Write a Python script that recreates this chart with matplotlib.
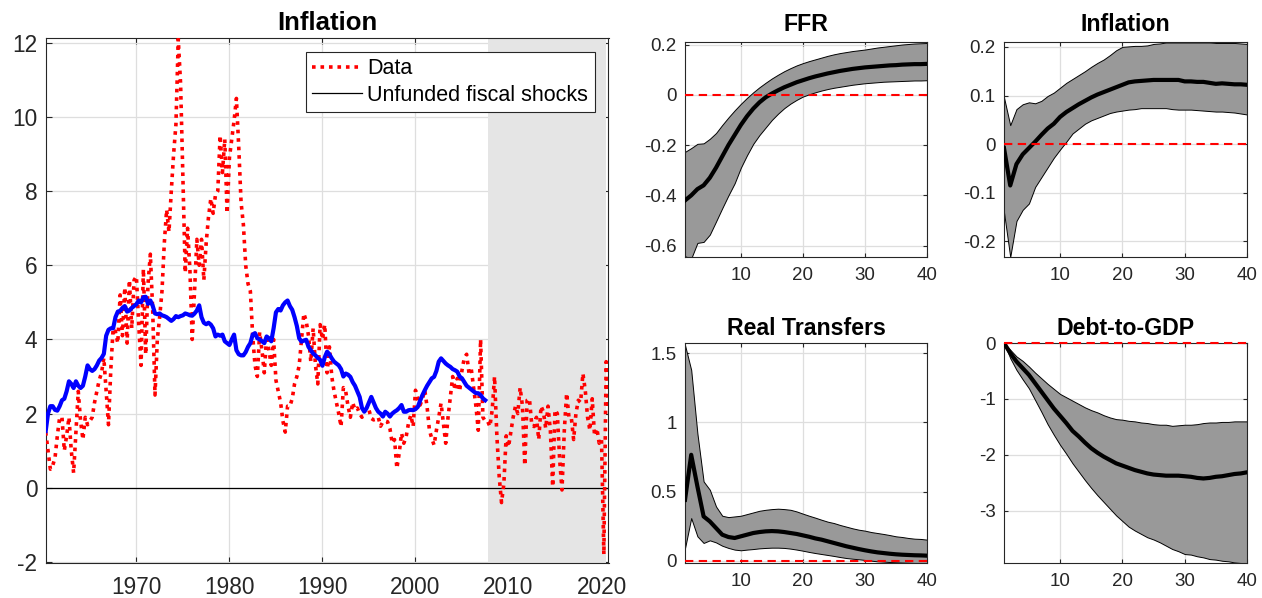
import numpy as np
import matplotlib
matplotlib.use("Agg")
import matplotlib.pyplot as plt
from matplotlib.ticker import FormatStrFormatter

plt.rcParams["font.family"] = ["Liberation Sans", "DejaVu Sans"]
plt.rcParams["axes.unicode_minus"] = False

# ---- left panel: quarterly inflation data (1960Q2 - 2020Q4) ----
data_start = 1960.25
inflation_data = [
    1.5, 1.0, 0.5,
    0.6, 0.8, 1.4, 1.9, 1.9, 1.0, 1.4, 1.9, 1.0, 0.4, 1.5, 2.6,
    1.8, 1.3, 1.9, 1.7, 1.8, 1.9, 2.3, 2.6, 2.9, 3.1, 3.5, 2.6,
    1.7, 3.2, 4.3, 4.2, 3.9, 5.2, 4.1, 5.4, 3.9, 5.6, 4.3, 5.6,
    5.7, 4.4, 3.3, 5.9, 3.6, 5.5, 6.3, 4.8, 2.5, 4.0, 4.6, 5.3,
    6.6, 7.5, 6.9, 8.0, 9.0, 9.8, 12.1, 10.9, 8.4, 5.8, 7.0, 5.9,
    4.0, 5.3, 6.7, 6.0, 6.7, 5.6, 6.6, 7.3, 7.8, 7.4, 7.9, 8.0,
    9.5, 8.5, 9.4, 7.4, 8.9, 9.4, 9.9, 10.5, 9.2, 7.7, 7.1, 6.0,
    5.5, 5.3, 4.1, 3.3, 3.0, 4.2, 3.7, 3.1, 4.1, 3.7, 3.3, 4.0,
    2.9, 2.6, 2.3, 1.8, 1.5, 2.2, 2.2, 2.4, 2.8, 3.0, 3.3, 4.0,
    4.7, 4.5, 4.1, 3.4, 4.3, 3.3, 2.8, 4.4, 4.0, 4.4, 3.1, 3.8,
    3.0, 2.6, 2.3, 2.0, 1.65, 2.7, 2.6, 2.2, 1.9, 2.3, 2.1, 2.15,
    2.0, 1.9, 2.1, 2.05, 2.1, 1.87, 1.83, 1.85, 1.9, 1.66, 1.78, 1.8,
    1.78, 1.6, 1.2, 1.3, 0.52, 0.93, 1.47, 1.2, 1.38, 1.74, 1.96, 1.65,
    2.63, 2.4, 2.23, 2.4, 2.63, 2.18, 1.55, 1.33, 1.15, 1.55, 1.9, 2.28,
    1.74, 1.2, 1.9, 2.45, 3.0, 2.63, 2.95, 2.6, 3.17, 3.5, 3.6, 3.1,
    3.2, 2.7, 2.2, 1.55, 4.0, 1.9, 1.8, 1.8, 1.65, 2.1, 3.0, 1.4,
    0.3, -0.4, 0.1, 1.4, 1.1, 1.5, 1.9, 2.2, 2.0, 2.7, 2.2, 0.6,
    2.36, 2.4, 1.7, 1.65, 1.9, 1.3, 2.2, 2.05, 1.6, 2.2, 1.55, 0.03,
    2.1, 2.0, 0.75, -0.06, 1.55, 2.55, 1.9, 1.9, 1.3, 2.0, 2.36, 2.3,
    3.08, 2.63, 1.9, 1.55, 2.4, 1.4, 1.6, 1.2, 1.3, -1.8, 3.4, 2.2,
]

# contribution of unfunded fiscal shocks (1960Q2 - 2007Q3)
unfunded = [
    1.53, 2.0, 2.2,
    2.2, 2.1, 2.08, 2.2, 2.36, 2.4, 2.6, 2.87, 2.8, 2.69, 2.87, 2.75,
    2.69, 2.75, 3.0, 3.3, 3.2, 3.15, 3.2, 3.3, 3.43, 3.5, 3.61, 4.1,
    4.26, 4.3, 4.3, 4.6, 4.75, 4.77, 4.85, 4.9, 4.75, 4.78, 4.85, 4.9,
    4.95, 5.05, 5.0, 5.14, 5.15, 4.96, 5.05, 4.91, 4.7, 4.68, 4.7, 4.65,
    4.63, 4.6, 4.55, 4.5, 4.55, 4.63, 4.6, 4.63, 4.65, 4.7, 4.68, 4.65,
    4.64, 4.7, 4.78, 4.92, 4.6, 4.45, 4.41, 4.45, 4.4, 4.3, 4.08, 4.13,
    4.1, 4.13, 3.95, 3.9, 3.85, 4.0, 4.13, 3.71, 3.6, 3.57, 3.57, 3.66,
    3.8, 3.9, 4.13, 4.17, 4.03, 4.0, 3.95, 3.9, 4.08, 4.03, 3.95, 4.3,
    4.73, 4.82, 4.78, 4.92, 5.0, 5.05, 4.9, 4.8, 4.6, 4.36, 4.03, 3.94,
    3.97, 3.99, 3.8, 3.71, 3.62, 3.57, 3.5, 3.45, 3.29, 3.52, 3.67, 3.6,
    3.49, 3.4, 3.35, 3.3, 3.2, 3.0, 3.08, 3.05, 2.99, 2.85, 2.75, 2.6,
    2.45, 2.15, 2.05, 2.15, 2.3, 2.45, 2.3, 2.15, 2.05, 2.0, 1.92, 2.05,
    2.0, 1.92, 2.0, 2.05, 2.09, 2.15, 2.23, 2.05, 2.05, 2.09, 2.1, 2.09,
    2.12, 2.18, 2.35, 2.5, 2.63, 2.75, 2.85, 2.95, 2.99, 3.15, 3.4, 3.49,
    3.42, 3.35, 3.3, 3.26, 3.2, 3.17, 3.13, 3.0, 2.95, 2.85, 2.75, 2.7,
    2.65, 2.6, 2.55, 2.55, 2.5, 2.41, 2.36,
]

shade_span = (2007.75, 2020.5)

# ---- impulse responses, horizons 1..40 ----
horizons = np.arange(1, 41)

ffr_med = [-0.42, -0.40, -0.375, -0.36, -0.33, -0.29, -0.245, -0.20, -0.16, -0.12,
           -0.085, -0.055, -0.03, -0.01, 0.005, 0.018, 0.03, 0.04, 0.05, 0.058,
           0.066, 0.073, 0.079, 0.085, 0.09, 0.095, 0.099, 0.103, 0.106, 0.109,
           0.111, 0.113, 0.115, 0.117, 0.118, 0.12, 0.121, 0.122, 0.122, 0.123]
ffr_hi = [-0.227, -0.212, -0.195, -0.193, -0.175, -0.152, -0.12, -0.09, -0.062, -0.036,
          -0.012, 0.01, 0.03, 0.048, 0.065, 0.08, 0.094, 0.106, 0.117, 0.126,
          0.134, 0.141, 0.148, 0.155, 0.161, 0.166, 0.17, 0.174, 0.177, 0.18,
          0.184, 0.188, 0.191, 0.194, 0.197, 0.2, 0.202, 0.204, 0.205, 0.206]
ffr_lo = [-0.642, -0.651, -0.589, -0.585, -0.556, -0.504, -0.451, -0.40, -0.352, -0.29,
          -0.24, -0.195, -0.16, -0.13, -0.1, -0.075, -0.053, -0.035, -0.02, -0.007,
          0.002, 0.01, 0.017, 0.023, 0.028, 0.032, 0.036, 0.04, 0.043, 0.046,
          0.048, 0.05, 0.052, 0.053, 0.054, 0.055, 0.056, 0.057, 0.057, 0.058]

inf_med = [-0.008, -0.085, -0.041, -0.021, -0.008, 0.005, 0.019, 0.032, 0.042, 0.056,
           0.066, 0.074, 0.082, 0.089, 0.096, 0.102, 0.107, 0.112, 0.117, 0.122,
           0.127, 0.129, 0.13, 0.131, 0.132, 0.132, 0.132, 0.132, 0.132, 0.129,
           0.129, 0.128, 0.128, 0.126, 0.124, 0.125, 0.124, 0.123, 0.123, 0.122]
inf_hi = [0.096, 0.039, 0.072, 0.082, 0.086, 0.084, 0.089, 0.099, 0.106, 0.116,
          0.126, 0.134, 0.142, 0.15, 0.159, 0.167, 0.174, 0.183, 0.193, 0.2,
          0.201, 0.202, 0.202, 0.203, 0.206, 0.207, 0.209, 0.209, 0.209, 0.209,
          0.209, 0.209, 0.209, 0.209, 0.208, 0.208, 0.208, 0.208, 0.207, 0.206]
inf_lo = [-0.14, -0.232, -0.158, -0.135, -0.122, -0.088, -0.068, -0.048, -0.028, -0.011,
          0.005, 0.022, 0.032, 0.042, 0.049, 0.054, 0.059, 0.064, 0.067, 0.069,
          0.071, 0.072, 0.074, 0.074, 0.074, 0.074, 0.074, 0.072, 0.071, 0.071,
          0.071, 0.07, 0.069, 0.068, 0.067, 0.067, 0.066, 0.065, 0.063, 0.061]

tr_med = [0.44, 0.766, 0.537, 0.32, 0.284, 0.236, 0.188, 0.171, 0.164, 0.176,
          0.188, 0.2, 0.207, 0.212, 0.214, 0.212, 0.207, 0.2, 0.193, 0.183,
          0.173, 0.161, 0.152, 0.14, 0.128, 0.116, 0.104, 0.094, 0.084, 0.075,
          0.067, 0.06, 0.055, 0.05, 0.046, 0.043, 0.041, 0.039, 0.038, 0.036]
tr_hi = [1.56, 1.38, 0.92, 0.573, 0.513, 0.392, 0.325, 0.315, 0.32, 0.325,
         0.337, 0.349, 0.361, 0.368, 0.373, 0.376, 0.373, 0.368, 0.356, 0.34,
         0.325, 0.311, 0.296, 0.282, 0.272, 0.258, 0.246, 0.234, 0.224, 0.217,
         0.207, 0.2, 0.193, 0.185, 0.176, 0.171, 0.164, 0.159, 0.157, 0.152]
tr_lo = [0.09, 0.308, 0.176, 0.128, 0.147, 0.132, 0.108, 0.092, 0.08, 0.075,
         0.08, 0.084, 0.089, 0.092, 0.094, 0.094, 0.092, 0.087, 0.08, 0.072,
         0.063, 0.055, 0.048, 0.041, 0.034, 0.026, 0.019, 0.014, 0.01, 0.005,
         0.0, -0.005, -0.007, -0.01, -0.012, -0.014, -0.015, -0.017, -0.017, -0.017]

debt_med = [0.0, -0.18, -0.33, -0.45, -0.57, -0.72, -0.87, -1.02, -1.17, -1.3,
            -1.43, -1.57, -1.67, -1.78, -1.88, -1.96, -2.03, -2.09, -2.15, -2.19,
            -2.23, -2.27, -2.3, -2.33, -2.35, -2.36, -2.37, -2.37, -2.37, -2.38,
            -2.39, -2.41, -2.42, -2.41, -2.39, -2.38, -2.36, -2.34, -2.33, -2.31]
debt_hi = [0.0, -0.12, -0.24, -0.32, -0.42, -0.53, -0.63, -0.73, -0.82, -0.91,
           -0.97, -1.03, -1.09, -1.15, -1.2, -1.24, -1.29, -1.33, -1.36, -1.37,
           -1.39, -1.4, -1.42, -1.43, -1.45, -1.46, -1.46, -1.48, -1.47, -1.46,
           -1.46, -1.45, -1.43, -1.42, -1.42, -1.41, -1.41, -1.4, -1.4, -1.4]
debt_lo = [0.0, -0.27, -0.48, -0.65, -0.81, -1.02, -1.23, -1.45, -1.64, -1.82,
           -1.98, -2.15, -2.3, -2.45, -2.59, -2.72, -2.84, -2.96, -3.08, -3.18,
           -3.28, -3.35, -3.41, -3.47, -3.51, -3.56, -3.62, -3.68, -3.72, -3.77,
           -3.78, -3.81, -3.83, -3.86, -3.87, -3.89, -3.9, -3.92, -3.93, -3.93]

AX_COLOR = "#262626"
GRID_COLOR = "#dedede"


def style_axes(ax, labelsize, ticklen, xpad, ypad):
    ax.set_axisbelow(True)
    ax.grid(True, color=GRID_COLOR, linewidth=0.9)
    for s in ax.spines.values():
        s.set_color(AX_COLOR)
        s.set_linewidth(0.8)
    ax.tick_params(direction="in", top=True, right=True, length=ticklen,
                   width=0.8, color=AX_COLOR, labelcolor=AX_COLOR,
                   labelsize=labelsize)
    ax.tick_params(axis="x", pad=xpad)
    ax.tick_params(axis="y", pad=ypad)


def history_plot(ax):
    dates = data_start + 0.25 * np.arange(len(inflation_data))
    dates_u = data_start + 0.25 * np.arange(len(unfunded))
    ax.axvspan(*shade_span, color="#e5e5e5", lw=0, zorder=1)
    red, = ax.plot(dates, inflation_data, color="red", lw=2.6,
                   linestyle=(0, (1, 1.35)), zorder=3)
    zero = ax.axhline(0, color="black", lw=0.9, zorder=2)
    ax.plot(dates_u, unfunded, color="blue", lw=3.0, zorder=4)
    ax.set_xlim(1960.25, 2020.75)
    ax.set_ylim(-2.03, 12.13)
    ax.set_xticks([1970, 1980, 1990, 2000, 2010, 2020])
    ax.set_yticks(np.arange(-2, 13, 2))
    style_axes(ax, 16.3, 4, 9, 6)
    ax.set_title("Inflation", fontsize=18.5, fontweight="bold", pad=5.5)
    leg = ax.legend([red, zero], ["Data", "Unfunded fiscal shocks"],
                    loc="upper right", fontsize=15.5, fancybox=False,
                    framealpha=1, edgecolor=AX_COLOR, borderpad=0.3,
                    handlelength=2.3, handletextpad=0.25, labelspacing=0.25,
                    borderaxespad=0.65)
    leg.get_frame().set_linewidth(0.8)


def irf_plot(ax, med, lo, hi, title, ylim, yticks, title_pad):
    ax.fill_between(horizons, lo, hi, facecolor="#999999", edgecolor="black",
                    linewidth=0.7, zorder=2)
    ax.plot(horizons, med, color="black", lw=3.0, zorder=3)
    ax.axhline(0, color="red", lw=1.5, linestyle=(0, (4, 2.6)), zorder=4,
               clip_on=False)
    ax.set_xlim(1, 40)
    ax.set_ylim(*ylim)
    ax.set_xticks([10, 20, 30, 40])
    ax.set_yticks(yticks)
    ax.yaxis.set_major_formatter(FormatStrFormatter("%g"))
    style_axes(ax, 13.5, 3, 7, 6)
    ax.set_title(title, fontsize=16.7, fontweight="bold", pad=title_pad)


fig = plt.figure(figsize=(12.62, 5.98), dpi=100)
W, H = 1262.0, 598.0


def px_axes(x0, x1, top, bottom):
    return fig.add_axes([x0 / W, (H - bottom) / H, (x1 - x0) / W, (bottom - top) / H])


ax_hist = px_axes(45.7, 608.5, 38, 563)
ax_ffr = px_axes(685, 927, 42, 257)
ax_inf = px_axes(1004, 1247, 42, 257)
ax_tr = px_axes(685, 927, 343, 563)
ax_debt = px_axes(1004, 1247, 343, 563)

history_plot(ax_hist)
irf_plot(ax_ffr, ffr_med, ffr_lo, ffr_hi, "FFR", (-0.645, 0.21),
         [-0.6, -0.4, -0.2, 0, 0.2], 8)
irf_plot(ax_inf, inf_med, inf_lo, inf_hi, "Inflation", (-0.232, 0.21),
         [-0.2, -0.1, 0, 0.1, 0.2], 8)
irf_plot(ax_tr, tr_med, tr_lo, tr_hi, "Real Transfers", (-0.017, 1.575),
         [0, 0.5, 1, 1.5], 6)
irf_plot(ax_debt, debt_med, debt_lo, debt_hi, "Debt-to-GDP", (-3.93, 0),
         [-3, -2, -1, 0], 6)

fig.savefig("out.png", dpi=100)
